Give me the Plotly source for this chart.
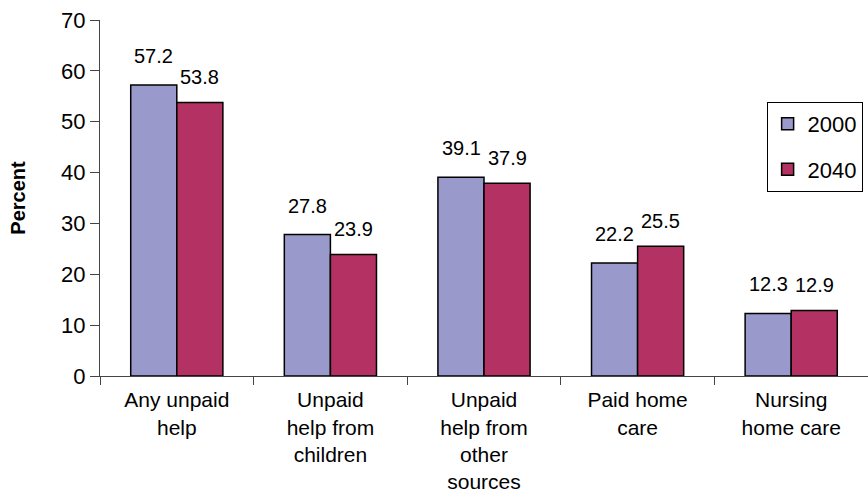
import plotly.graph_objects as go

categories = ["Any unpaid<br>help", "Unpaid<br>help from<br>children", "Unpaid<br>help from<br>other<br>sources",
              "Paid home<br>care", "Nursing<br>home care"]
values_2000 = [57.2, 27.8, 39.1, 22.2, 12.3]
values_2040 = [53.8, 23.9, 37.9, 25.5, 12.9]
series_names = ["2000", "2040"]
colors = ["#9999CB", "#B33163"]
y_ticks = [0, 10, 20, 30, 40, 50, 60, 70]

FONT = "Liberation Sans, Arial, sans-serif"

fig = go.Figure()
for name, vals, col, grp in [(series_names[0], values_2000, colors[0], "a"),
                             (series_names[1], values_2040, colors[1], "b")]:
    fig.add_trace(go.Bar(
        x=categories, y=vals, name=name, legendgroup=grp,
        marker=dict(color=col, line=dict(color="black", width=1.5)),
    ))

annotations = []
for i, cat in enumerate(categories):
    for vals, xs, ys in [(values_2000, -23, 16), (values_2040, 23, 12)]:
        annotations.append(dict(
            x=cat, y=vals[i], xref="x", yref="y", text=f"{vals[i]:.1f}",
            showarrow=False, xshift=xs, yshift=ys, yanchor="bottom",
            font=dict(family=FONT, size=20, color="black"),
        ))

fig.update_layout(
    width=868, height=492,
    margin=dict(l=100, r=0, t=20, b=116),
    paper_bgcolor="white", plot_bgcolor="white",
    barmode="group", bargap=0.40, bargroupgap=0,
    font=dict(family=FONT, color="black"),
    annotations=annotations,
    legend=dict(
        x=0.868, y=0.77, xanchor="left", yanchor="top",
        bordercolor="black", borderwidth=1, bgcolor="white",
        font=dict(family=FONT, size=22, color="black"),
        traceorder="grouped", tracegroupgap=14,
    ),
    showlegend=True,
)
fig.update_xaxes(
    showline=True, linecolor="#444444", linewidth=1, automargin=False,
    ticks="outside", tickson="boundaries", ticklen=8, tickcolor="#444444",
    ticklabelstandoff=5,
    tickfont=dict(family=FONT, size=21, color="black"),
    range=[-0.5, 4.5], showgrid=False,
)
fig.update_yaxes(
    range=[0, 70], tickvals=y_ticks, showline=True, linecolor="#444444", linewidth=1,
    automargin=False,
    ticks="outside", ticklen=9, tickcolor="#444444", showgrid=False, zeroline=False,
    tickfont=dict(family=FONT, size=22, color="black"),
    title=dict(text="<b>Percent</b>", font=dict(family=FONT, size=20, color="black"), standoff=30),
)
# remove the page's default body margin so the figure sits at the window's top-left corner
fig.write_html("out.html", config={"displayModeBar": False},
               post_script="document.body.style.margin='0';")
